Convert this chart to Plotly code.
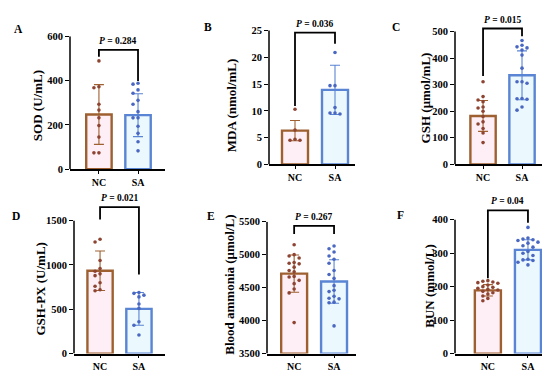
import plotly.graph_objects as go

W, H = 550, 372
groups = ["NC", "SA"]

# ---------------- data ----------------
sod_nc = [489, 372, 368, 293, 267, 232, 197, 145, 74, 74]
sod_sa = [388, 384, 358, 343, 311, 293, 260, 232, 232, 194, 162, 124, 83]
sod_mean = [247, 244]
sod_sd = [135, 97]
sod_p = "0.284"

mda_nc = [10.3, 6.4, 4.7, 4.5, 4.5]
mda_sa = [20.9, 14.7, 14.7, 10.6, 9.6, 9.6, 9.4]
mda_mean = [6.3, 13.9]
mda_sd = [1.9, 4.6]
mda_p = "0.036"

gsh_nc = [311, 255, 242, 236, 216, 212, 200, 180, 160, 152, 135, 118, 82]
gsh_sa = [466, 448, 442, 438, 430, 411, 362, 311, 311, 305, 248, 245, 247, 216, 204]
gsh_mean = [182, 335]
gsh_sd = [58, 92]
gsh_p = "0.015"

gpx_nc = [1290, 1260, 1050, 960, 930, 900, 880, 800, 760, 720, 710]
gpx_sa = [690, 680, 660, 640, 560, 510, 360, 320, 210]
gpx_mean = [935, 505]
gpx_sd = [222, 185]
gpx_p = "0.021"

amm_nc = [5150, 5000, 4980, 4950, 4880, 4870, 4860, 4810, 4760, 4740, 4670,
          4660, 4610, 4560, 4480, 4420, 3970]
amm_sa = [5130, 5090, 5040, 4980, 4930, 4870, 4760, 4700, 4640, 4530, 4460,
          4440, 4370, 4340, 4330, 4280, 4270, 3920]
amm_mean = [4712, 4593]
amm_sd = [282, 330]
amm_p = "0.267"

bun_nc = [218, 216, 214, 212, 210, 205, 200, 198, 195, 192, 190, 186, 182,
          178, 172, 165, 158]
bun_sa = [377, 345, 342, 340, 338, 333, 330, 322, 318, 305, 300, 293, 282,
          280, 278, 273, 265]
bun_mean = [189, 310]
bun_sd = [17, 30]
bun_p = "0.04"

titles = ["SOD (U/mL)", "MDA (nmol/mL)", "GSH (μmol/mL)",
          "GSH-PX (U/mL)", "Blood ammonia (μmol/L)", "BUN (mmol/L)"]
letters = ["A", "B", "C", "D", "E", "F"]

# ---------------- layout settings (pixels) ----------------
panels = [
    dict(nc=sod_nc, sa=sod_sa, mean=sod_mean, sd=sod_sd, p=sod_p,
         xpx=(62, 157), xr=(-0.74, 1.69), ybot=161, ytickpx=24,
         ymin=0, ytickmax=600, ytop=600, dtick=200, br=(508, 539, 398),
         letter=(10, 16), tpos=(29, 96)),
    dict(nc=mda_nc, sa=mda_sa, mean=mda_mean, sd=mda_sd, p=mda_p,
         xpx=(261, 347), xr=(-0.65, 1.5), ybot=156, ytickpx=18,
         ymin=0, ytickmax=25, ytop=25.6, dtick=5, br=(10.9, 24.6, 22.5),
         letter=(200, 14), tpos=(223, 95)),
    dict(nc=gsh_nc, sa=gsh_sa, mean=gsh_mean, sd=gsh_sd, p=gsh_p,
         xpx=(447, 537), xr=(-0.72, 1.59), ybot=156, ytickpx=19,
         ymin=0, ytickmax=500, ytop=525, dtick=100, br=(332, 511, 482),
         letter=(388, 14), tpos=(417, 88)),
    dict(nc=gpx_nc, sa=gpx_sa, mean=gpx_mean, sd=gpx_sd, p=gpx_p,
         xpx=(66, 157), xr=(-0.67, 1.67), ybot=351, ytickpx=214,
         ymin=0, ytickmax=1500, ytop=1680, dtick=500, br=(1514, 1653, 894),
         letter=(8, 209), tpos=(33, 284)),
    dict(nc=amm_nc, sa=amm_sa, mean=amm_mean, sd=amm_sd, p=amm_p,
         xpx=(259, 348), xr=(-0.68, 1.55), ybot=351, ytickpx=215,
         ymin=3500, ytickmax=5500, ytop=5500, dtick=500, br=(5313, 5437, 5313),
         letter=(203, 209), tpos=(222, 280)),
    dict(nc=bun_nc, sa=bun_sa, mean=bun_mean, sd=bun_sd, p=bun_p,
         xpx=(447, 540), xr=(-0.82, 1.5), ybot=351, ytickpx=213,
         ymin=0, ytickmax=400, ytop=440, dtick=100, br=(225, 428, 391),
         letter=(392, 208), tpos=(422, 281)),
]

NC_LINE = "#9E6030"
SA_LINE = "#5A84D4"
NC_FILL = "rgba(253,236,243,0.85)"
SA_FILL = "rgba(231,247,253,0.85)"
NC_DOT = "#8E4432"
SA_DOT = "#4A68C2"
FONT = "Liberation Serif"


def swarm(vals, ypx, xpx, step=5.0, diam=4.2):
    placed = []
    res = [0.0] * len(vals)
    order = sorted(range(len(vals)), key=lambda i: -vals[i])
    for i in order:
        y = vals[i] * ypx
        x = 0.0
        for k in [0, -1, 1, -2, 2, -3, 3]:
            x = k * step
            if all((x - a) ** 2 + (y - b) ** 2 >= diam ** 2 for a, b in placed):
                break
        placed.append((x, y))
        res[i] = x / xpx
    return res


fig = go.Figure()
shapes = []
annotations = []
layout_axes = {}

for n, pn in enumerate(panels, start=1):
    sfx = "" if n == 1 else str(n)
    xa, ya = "x" + sfx, "y" + sfx
    xl, xr = pn["xpx"]
    xscale = (xr - xl) / (pn["xr"][1] - pn["xr"][0])
    yscale = (pn["ybot"] - pn["ytickpx"]) / (pn["ytickmax"] - pn["ymin"])
    ytop_px = pn["ybot"] - (pn["ytop"] - pn["ymin"]) * yscale
    layout_axes["xaxis" + sfx] = dict(
        domain=[xl / W, xr / W], range=list(pn["xr"]), anchor=ya,
        tickvals=[0, 1], ticktext=groups, showline=True, linecolor="black",
        linewidth=1.5, ticks="outside", ticklen=3, tickwidth=1.2,
        tickcolor="black", showgrid=False, zeroline=False,
        tickfont=dict(family=FONT, size=10, color="black", weight="bold"),
        fixedrange=True)
    ticks = []
    v = pn["ymin"]
    while v <= pn["ytickmax"] + 1e-9:
        ticks.append(v)
        v += pn["dtick"]
    layout_axes["yaxis" + sfx] = dict(
        domain=[1 - pn["ybot"] / H, 1 - ytop_px / H],
        range=[pn["ymin"], pn["ytop"]], anchor=xa, tickvals=ticks,
        showline=False, ticks="outside", ticklen=4, tickwidth=1.2,
        tickcolor="black", showgrid=False, zeroline=False,
        tickfont=dict(family=FONT, size=10.5, color="black", weight="bold"),
        fixedrange=True)

    # y axis line up to the top tick only
    shapes.append(dict(type="line", xref=xa + " domain", yref=ya,
                       x0=0, x1=0, y0=pn["ymin"], y1=pn["ytickmax"],
                       line=dict(color="black", width=1.5)))

    for gi, (g, vals, lc, fc, dc) in enumerate([
            ("NC", pn["nc"], NC_LINE, NC_FILL, NC_DOT),
            ("SA", pn["sa"], SA_LINE, SA_FILL, SA_DOT)]):
        fig.add_trace(go.Bar(
            x=[gi], y=[pn["mean"][gi] - pn["ymin"]], base=pn["ymin"],
            width=0.65, xaxis=xa, yaxis=ya,
            marker=dict(color=fc, line=dict(color=lc, width=2.4)),
            error_y=dict(type="data", array=[pn["sd"][gi]], color=lc,
                         thickness=1.1, width=5),
            showlegend=False, hoverinfo="skip"))
        offs = swarm(vals, yscale, xscale)
        fig.add_trace(go.Scatter(
            x=[gi + o for o in offs], y=vals, mode="markers",
            xaxis=xa, yaxis=ya, cliponaxis=False,
            marker=dict(color=dc, size=3.6),
            showlegend=False, hoverinfo="skip"))

    b0, btop, b1 = pn["br"]
    shapes.append(dict(type="path", xref=xa, yref=ya,
                       path=f"M 0 {b0} L 0 {btop} L 1 {btop} L 1 {b1}",
                       line=dict(color="black", width=1.8)))
    annotations.append(dict(
        xref=xa, yref=ya, x=0.5, y=btop, yanchor="bottom", yshift=2,
        showarrow=False, text="<i>P</i> = " + pn["p"],
        font=dict(family=FONT, size=9.5, color="black", weight="bold")))
    annotations.append(dict(
        xref="paper", yref="paper", x=pn["tpos"][0] / W,
        y=1 - pn["tpos"][1] / H, textangle=-90, showarrow=False,
        text=titles[n - 1], xanchor="center", yanchor="middle",
        font=dict(family=FONT, size=13, color="black", weight="bold")))
    annotations.append(dict(
        xref="paper", yref="paper", x=pn["letter"][0] / W,
        y=1 - pn["letter"][1] / H, showarrow=False, text=letters[n - 1],
        xanchor="center", yanchor="middle",
        font=dict(family=FONT, size=11.5, color="black", weight="bold")))

fig.update_layout(
    width=W, height=H, margin=dict(l=0, r=0, t=0, b=0),
    paper_bgcolor="white", plot_bgcolor="white", barmode="overlay",
    shapes=shapes, annotations=annotations, **layout_axes)

fig.write_html("out.html", config=dict(displayModeBar=False))
